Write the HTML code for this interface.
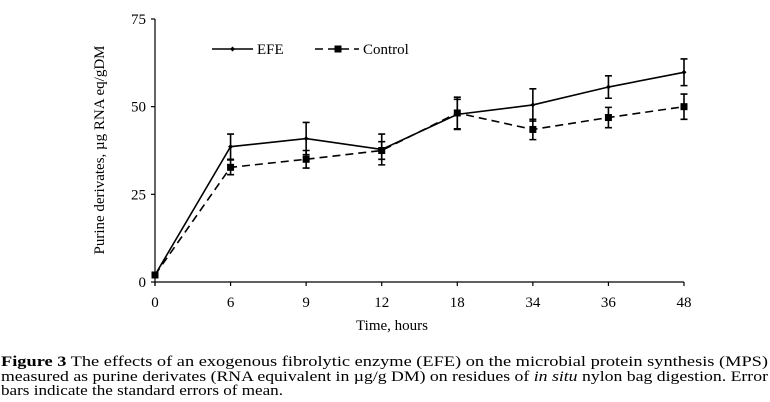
<!DOCTYPE html>
<html><head><meta charset="utf-8"><style>
html,body{margin:0;padding:0;background:#fff;}
svg{display:block;font-family:"Liberation Serif",serif;}
</style></head><body>
<svg id="chart" width="770" height="402" viewBox="0 0 770 402" xmlns="http://www.w3.org/2000/svg">
<g id="axes"></g>
<g id="series"></g>
<g>
<line x1="212" y1="49" x2="253" y2="49" stroke="#000" stroke-width="1.6"/>
<path d="M232.5 46.5 L235 49 L232.5 51.5 L230 49 Z" fill="#000"/>
<text x="257" y="54" font-size="15">EFE</text>
<line x1="315" y1="49" x2="359" y2="49" stroke="#000" stroke-width="1.6" stroke-dasharray="8,5"/>
<rect x="334.5" y="45.5" width="7" height="7" fill="#000"/>
<text x="363" y="54" font-size="15">Control</text>
</g>
<text x="392" y="330" font-size="15" text-anchor="middle">Time, hours</text>
<text transform="translate(104,150) rotate(-90)" font-size="15" text-anchor="middle">Purine derivates, µg RNA eq/gDM</text>
<g font-size="15">
<text x="1" y="366" textLength="767" lengthAdjust="spacingAndGlyphs"><tspan font-weight="bold">Figure 3</tspan> The effects of an exogenous fibrolytic enzyme (EFE) on the microbial protein synthesis (MPS)</text>
<text x="1" y="381" textLength="767" lengthAdjust="spacingAndGlyphs">measured as purine derivates (RNA equivalent in µg/g DM) on residues of <tspan font-style="italic">in situ</tspan> nylon bag digestion. Error</text>
<text x="1" y="395" textLength="282" lengthAdjust="spacingAndGlyphs">bars indicate the standard errors of mean.</text>
</g>
</svg>
<script>
const categories=["0","6","9","12","18","34","36","48"];
const efeValues=[2,38.6,40.9,37.8,47.8,50.5,55.6,59.8];
const efeErrors=[0,3.6,4.6,4.4,4.3,4.6,3.2,3.8];
const controlValues=[2,32.7,35,37.5,48.2,43.5,46.9,50];
const controlErrors=[0,2.1,2.5,2.5,4.5,2.9,2.9,3.6];
const yTicks=[0,25,50,75];

const NS="http://www.w3.org/2000/svg";
const X0=155,X1=684,Y0=282,Y1=19,YMAX=75;
const xs=i=>X0+i*(X1-X0)/(categories.length-1);
const ys=v=>Y0-v*(Y0-Y1)/YMAX;
function mk(tag,attrs,parent){const e=document.createElementNS(NS,tag);for(const k in attrs)e.setAttribute(k,attrs[k]);parent.appendChild(e);return e;}
const axes=document.getElementById('axes'),series=document.getElementById('series');
let e=mk('line',{x1:X0,y1:Y0,x2:X1,y2:Y0,stroke:'#000','stroke-width':1.2},axes);


e=mk('line',{x1:X0,y1:Y0+4,x2:X0,y2:Y1,stroke:'#000','stroke-width':1.2},axes);


yTicks.forEach(t=>{
 let l=mk('line',{x1:X0-4,y1:ys(t),x2:X0,y2:ys(t),stroke:'#000','stroke-width':1.2},axes);
 
 
 let tx=mk('text',{x:X0-9,y:ys(t)+5,'font-size':15,'text-anchor':'end'},axes);tx.textContent=t;
 
 
});
categories.forEach((c,i)=>{
 let l=mk('line',{x1:xs(i),y1:Y0,x2:xs(i),y2:Y0+4,stroke:'#000','stroke-width':1.2},axes);
 
 
 let tx=mk('text',{x:xs(i),y:Y0+25,'font-size':15,'text-anchor':'middle'},axes);tx.textContent=c;
 
 
});
function drawSeries(vals,errs,dash,name,square){
 const g=mk('g',{},series);
 
 
 let p=mk('polyline',{points:vals.map((v,i)=>xs(i)+','+ys(v)).join(' '),fill:'none',stroke:'#000','stroke-width':1.6,'stroke-dasharray':dash},g);
 
 
 vals.forEach((v,i)=>{
  const x=xs(i);
  if(errs[i]>0){
   const a=ys(v+errs[i]),b=ys(v-errs[i]);
   let eb=mk('path',{d:`M${x} ${a}V${b}M${x-3.5} ${a}H${x+3.5}M${x-3.5} ${b}H${x+3.5}`,stroke:'#000','stroke-width':1.6,fill:'none'},g);
   
   
  }
  let m;
  if(square) m=mk('rect',{x:x-3.5,y:ys(v)-3.5,width:7,height:7,fill:'#000'},g);
  else m=mk('path',{d:`M${x} ${ys(v)-2.5}L${x+2.5} ${ys(v)}L${x} ${ys(v)+2.5}L${x-2.5} ${ys(v)}Z`,fill:'#000'},g);
  
  
 });
}
drawSeries(controlValues,controlErrors,'8,5','control',true);
drawSeries(efeValues,efeErrors,'none','efe',false);
</script>
</body></html>
